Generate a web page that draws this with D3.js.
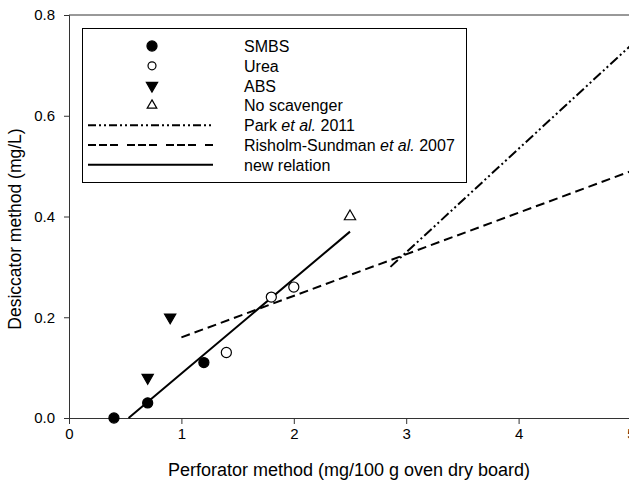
<!DOCTYPE html>
<html lang="en">
<head>
<meta charset="UTF-8">
<title>Desiccator vs perforator</title>
<style>
  body { margin: 0; background: #fff; }
  svg { display: block; font-family: "Liberation Sans", Arial, sans-serif; }
</style>
</head>
<body>
<script src="https://d3js.org/d3.v7.min.js"></script>
<script>
// data
let smbs = [[0.4, 0.0], [0.7, 0.03], [1.2, 0.11]];
let urea = [[1.4, 0.13], [1.8, 0.24], [2.0, 0.26]];
let abs = [[0.7, 0.08], [0.9, 0.20]];
let noScav = [[2.5, 0.40]];
// line end points (x, y)
let parkLine = [[2.86, 0.30], [5.0, 0.74]];
let risholmLine = [[1.0, 0.16], [5.0, 0.49]];
let newLine = [[0.53, 0.0], [2.5, 0.37]];
let xTicks = [0, 1, 2, 3, 4, 5];
let yTicks = [0.0, 0.2, 0.4, 0.6, 0.8];

let width = 629, height = 481;
let svg = d3.select('body').append('svg')
    .attr('width', width).attr('height', height);

let x = d3.scaleLinear().domain([0, 5]).range([69, 631]);
let y = d3.scaleLinear().domain([0, 0.8]).range([418, 15]);

// frame: top line and axes
svg.append('line')
    .attr('x1', x(0)).attr('x2', x(5)).attr('y1', y(0.8)).attr('y2', y(0.8))
    .attr('stroke', '#333').attr('stroke-width', 1);

let xAxis = svg.append('g')
    .attr('transform', 'translate(0,' + y(0) + ')')
    .call(d3.axisBottom(x).tickValues(xTicks).tickSize(6).tickPadding(4)
        .tickFormat(d3.format('d')));
let yAxis = svg.append('g')
    .attr('transform', 'translate(' + x(0) + ',0)')
    .call(d3.axisLeft(y).tickValues(yTicks).tickSize(5).tickPadding(9)
        .tickFormat(d3.format('.1f')));

[xAxis, yAxis].forEach(function(a) {
    a.selectAll('path, line').attr('stroke', '#333');
    a.selectAll('text').attr('font-size', 15).attr('fill', '#000')
        .attr('font-family', '"Liberation Sans", Arial, sans-serif');
});

svg.append('text')
    .attr('x', 349).attr('y', 476)
    .attr('text-anchor', 'middle').attr('font-size', 18)
    .text('Perforator method (mg/100 g oven dry board)');

svg.append('text')
    .attr('transform', 'translate(21,' + 229 + ') rotate(-90)')
    .attr('text-anchor', 'middle').attr('font-size', 17.5)
    .text('Desiccator method (mg/L)');

let line = d3.line().x(function(d) { return x(d[0]); }).y(function(d) { return y(d[1]); });

let parkDash = '10,3,2,3,2,3';
let risDash = '9,5';

svg.append('path').datum(parkLine).attr('d', line)
    .attr('fill', 'none').attr('stroke', '#000').attr('stroke-width', 2)
    .attr('stroke-dasharray', parkDash);
svg.append('path').datum(risholmLine).attr('d', line)
    .attr('fill', 'none').attr('stroke', '#000').attr('stroke-width', 2)
    .attr('stroke-dasharray', risDash);
svg.append('path').datum(newLine).attr('d', line)
    .attr('fill', 'none').attr('stroke', '#000').attr('stroke-width', 2);

// point symbols
let circ = d3.symbol().type(d3.symbolCircle).size(80);
let tri = d3.symbol().type(d3.symbolTriangle).size(55);

function drawPoints(data, shape, fill, rot) {
    svg.append('g').selectAll('path')
        .data(data).enter().append('path')
        .attr('d', shape)
        .attr('transform', function(d) {
            return 'translate(' + x(d[0]) + ',' + y(d[1]) + ')' + (rot ? ' rotate(180)' : '');
        })
        .attr('fill', fill).attr('stroke', '#000').attr('stroke-width', 1.2);
}
drawPoints(smbs, circ, '#000', false);
drawPoints(urea, circ, '#fff', false);
drawPoints(abs, tri, '#000', true);
drawPoints(noScav, tri, '#fff', false);

// legend
let leg = svg.append('g');
leg.append('rect')
    .attr('x', 82.5).attr('y', 28.5).attr('width', 384).attr('height', 154)
    .attr('fill', '#fff').attr('stroke', '#000').attr('stroke-width', 1);

let legItems = [
    {label: 'SMBS', kind: 'pt', shape: circ, fill: '#000', rot: false},
    {label: 'Urea', kind: 'pt', shape: d3.symbol().type(d3.symbolCircle).size(50), fill: '#fff', rot: false},
    {label: 'ABS', kind: 'pt', shape: tri, fill: '#000', rot: true},
    {label: 'No scavenger', kind: 'pt', shape: d3.symbol().type(d3.symbolTriangle).size(40), fill: '#fff', rot: false},
    {label: ['Park ', 'et al.', ' 2011'], kind: 'ln', dash: '8,3,2,3,2,3'},
    {label: ['Risholm-Sundman ', 'et al.', ' 2007'], kind: 'ln', dash: '8,3,8,3,8,9'},
    {label: 'new relation', kind: 'ln', dash: null}
];

legItems.forEach(function(it, i) {
    let ly = 46 + i * 19.8;
    if (it.kind === 'pt') {
        leg.append('path').attr('d', it.shape)
            .attr('transform', 'translate(152,' + ly + ')' + (it.rot ? ' rotate(180)' : ''))
            .attr('fill', it.fill).attr('stroke', '#000').attr('stroke-width', 1.2);
    } else {
        leg.append('line')
            .attr('x1', 88).attr('x2', 213).attr('y1', ly).attr('y2', ly)
            .attr('stroke', '#000').attr('stroke-width', 2)
            .attr('stroke-dasharray', it.dash);
    }
    let t = leg.append('text').attr('x', 244).attr('y', ly + 6).attr('font-size', 16);
    if (typeof it.label === 'string') {
        t.text(it.label);
    } else {
        t.append('tspan').text(it.label[0]);
        t.append('tspan').attr('font-style', 'italic').text(it.label[1]);
        t.append('tspan').text(it.label[2]);
    }
});
</script>
</body>
</html>
